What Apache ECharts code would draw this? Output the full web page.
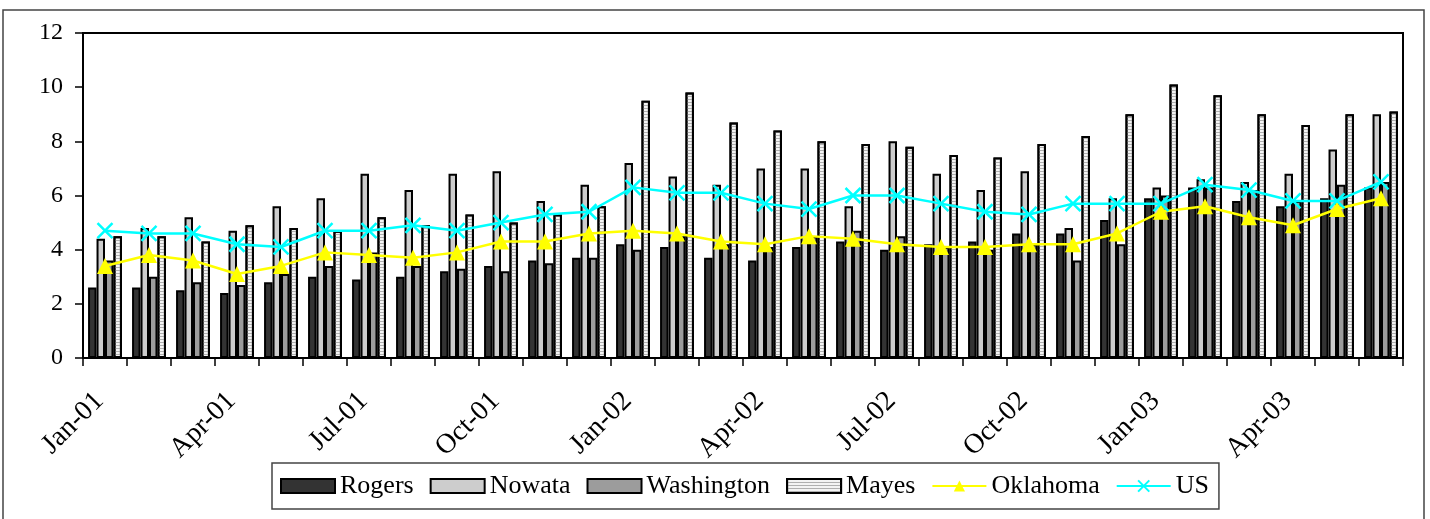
<!DOCTYPE html>
<html>
<head>
<meta charset="utf-8">
<script src="https://cdn.jsdelivr.net/npm/echarts@6/dist/echarts.min.js"></script>
<style>
  html, body { margin: 0; padding: 0; background: #fff; }
  #main { width: 1430px; height: 519px; }
</style>
</head>
<body>
<div id="main"></div>
<script>
// months Jan-01 .. Jun-03
var months = ['Jan-01','Feb-01','Mar-01','Apr-01','May-01','Jun-01','Jul-01','Aug-01','Sep-01','Oct-01','Nov-01','Dec-01',
              'Jan-02','Feb-02','Mar-02','Apr-02','May-02','Jun-02','Jul-02','Aug-02','Sep-02','Oct-02','Nov-02','Dec-02',
              'Jan-03','Feb-03','Mar-03','Apr-03','May-03','Jun-03'];

var rogers     = [2.6, 2.6, 2.5, 2.4, 2.8, 3.0, 2.9, 3.0, 3.2, 3.4, 3.6, 3.7, 4.2, 4.1, 3.7, 3.6, 4.1, 4.3, 4.0, 4.2, 4.3, 4.6, 4.6, 5.1, 5.9, 6.3, 5.8, 5.6, 5.9, 6.3];
var nowata     = [4.4, 4.8, 5.2, 4.7, 5.6, 5.9, 6.8, 6.2, 6.8, 6.9, 5.8, 6.4, 7.2, 6.7, 6.4, 7.0, 7.0, 5.6, 8.0, 6.8, 6.2, 6.9, 4.8, 5.9, 6.3, 6.6, 6.5, 6.8, 7.7, 9.0];
var washington = [3.6, 3.0, 2.8, 2.7, 3.1, 3.4, 3.9, 3.4, 3.3, 3.2, 3.5, 3.7, 4.0, 4.5, 4.2, 4.1, 4.5, 4.7, 4.5, 4.1, 4.0, 4.2, 3.6, 4.2, 6.0, 6.3, 6.2, 5.8, 6.4, 6.5];
var mayes      = [4.5, 4.5, 4.3, 4.9, 4.8, 4.7, 5.2, 4.9, 5.3, 5.0, 5.3, 5.6, 9.5, 9.8, 8.7, 8.4, 8.0, 7.9, 7.8, 7.5, 7.4, 7.9, 8.2, 9.0, 10.1, 9.7, 9.0, 8.6, 9.0, 9.1];
var oklahoma   = [3.4, 3.8, 3.6, 3.1, 3.4, 3.9, 3.8, 3.7, 3.9, 4.3, 4.3, 4.6, 4.7, 4.6, 4.3, 4.2, 4.5, 4.4, 4.2, 4.1, 4.1, 4.2, 4.2, 4.6, 5.4, 5.6, 5.2, 4.9, 5.5, 5.9];
var us         = [4.7, 4.6, 4.6, 4.2, 4.1, 4.7, 4.7, 4.9, 4.7, 5.0, 5.3, 5.4, 6.3, 6.1, 6.1, 5.7, 5.5, 6.0, 6.0, 5.7, 5.4, 5.3, 5.7, 5.7, 5.7, 6.4, 6.2, 5.8, 5.8, 6.5];

var serif = '"Liberation Serif", "Times New Roman", serif';
var myChart = echarts.init(document.getElementById('main'));

function barSeries(name, values, fill, decal) {
    var s = {
        name: name,
        type: 'bar',
        data: values,
        barGap: 0,
        barCategoryGap: '23%',
        itemStyle: { color: fill, borderColor: '#000', borderWidth: 2 }
    };
    if (decal) s.itemStyle.decal = decal;
    return s;
}

var option = {
    animation: false,
    backgroundColor: '#fff',
    graphic: [{
        type: 'rect',
        shape: { x: 3, y: 10, width: 1421, height: 520 },
        style: { fill: 'none', stroke: '#444', lineWidth: 1.5 },
        silent: true
    }],
    grid: {
        left: 83, right: 27, top: 33, bottom: 161,
        show: true, borderColor: '#000', borderWidth: 2,
        outerBoundsMode: 'none'
    },
    legend: {
        left: 272, top: 463,
        padding: [10, 10, 10, 8],
        itemWidth: 54, itemHeight: 14, itemGap: 16,
        borderColor: '#444', borderWidth: 1.5,
        textStyle: { fontFamily: serif, fontSize: 26, color: '#000' },
        data: [
            { name: 'Rogers', icon: 'rect' },
            { name: 'Nowata', icon: 'rect' },
            { name: 'Washington', icon: 'rect' },
            { name: 'Mayes', icon: 'rect' },
            'Oklahoma', 'US'
        ]
    },
    xAxis: {
        type: 'category',
        data: months,
        boundaryGap: true,
        axisLine: { lineStyle: { color: '#000', width: 2 } },
        axisTick: { show: true, interval: 0, length: 8, lineStyle: { color: '#000', width: 1.5 } },
        axisLabel: { interval: 2, rotate: 45, margin: 33, padding: [0, 8, 0, 0],
                     fontFamily: serif, fontSize: 28, color: '#000' },
        splitLine: { show: false }
    },
    yAxis: {
        type: 'value',
        min: 0, max: 12, interval: 2,
        axisLine: { show: true, lineStyle: { color: '#000', width: 2 } },
        axisTick: { show: true, length: 8, lineStyle: { color: '#000', width: 1.5 } },
        axisLabel: { margin: 20, fontFamily: serif, fontSize: 24, color: '#000' },
        splitLine: { show: false }
    },
    series: [
        barSeries('Rogers', rogers, '#333333'),
        barSeries('Nowata', nowata, '#cdcdcd'),
        barSeries('Washington', washington, '#9c9c9c'),
        barSeries('Mayes', mayes, '#f4f4f4', {
            symbol: 'rect', symbolSize: 1, color: '#b0b0b0',
            dashArrayX: [1, 0], dashArrayY: [1, 2], rotation: 0
        }),
        {
            name: 'Oklahoma',
            type: 'line',
            data: oklahoma,
            symbol: 'triangle',
            symbolSize: 16,
            lineStyle: { color: '#ffff00', width: 2.5 },
            itemStyle: { color: '#ffff00' },
            z: 5
        },
        {
            name: 'US',
            type: 'line',
            data: us,
            symbol: 'path://M0,0L10,10M10,0L0,10',
            symbolSize: 15,
            lineStyle: { color: '#00ffff', width: 2.5 },
            itemStyle: { color: '#00ffff', borderColor: '#00ffff', borderWidth: 2.5 },
            z: 5
        }
    ]
};

myChart.setOption(option);
</script>
</body>
</html>
